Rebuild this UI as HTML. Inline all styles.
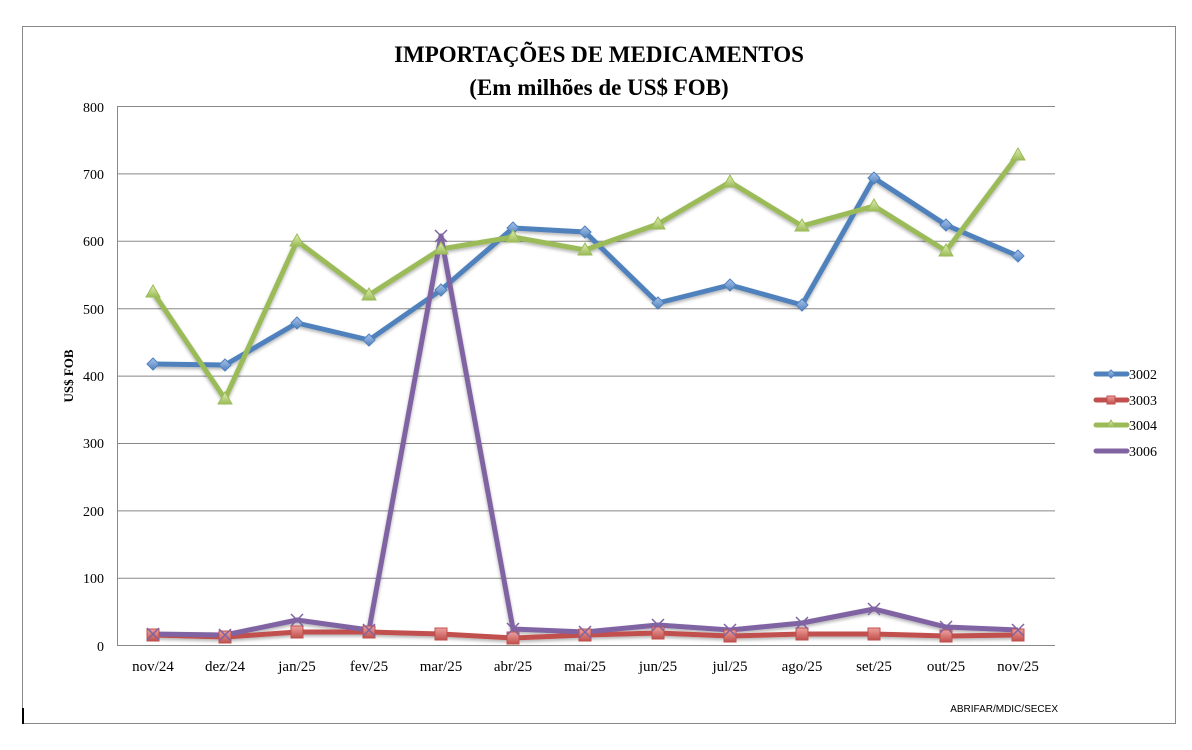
<!DOCTYPE html>
<html><head><meta charset="utf-8"><style>
body{margin:0;background:#fff;}
svg{display:block;}
</style></head><body>
<svg width="1192" height="750" viewBox="0 0 1192 750" xmlns="http://www.w3.org/2000/svg" font-family="Liberation Serif, serif">
<defs>
<filter id="sh" x="-20%" y="-20%" width="140%" height="160%"><feDropShadow dx="0" dy="2" stdDeviation="1.5" flood-color="#000" flood-opacity="0.3"/></filter>
<linearGradient id="gb" x1="0" y1="0" x2="0" y2="1"><stop offset="0" stop-color="#a9c4ec"/><stop offset="1" stop-color="#4f81bd"/></linearGradient>
<linearGradient id="gr" x1="0" y1="0" x2="0" y2="1"><stop offset="0" stop-color="#eea09d"/><stop offset="1" stop-color="#c0504d"/></linearGradient>
<linearGradient id="gg" x1="0" y1="0" x2="0" y2="1"><stop offset="0" stop-color="#e0f0b0"/><stop offset="1" stop-color="#9bbb59"/></linearGradient>
</defs>
<rect x="22.5" y="26.5" width="1153" height="697" fill="#fff" stroke="#888" stroke-width="1"/>
<rect x="22" y="708" width="2" height="16" fill="#000"/>
<text x="599" y="62" text-anchor="middle" font-size="23" font-weight="bold">IMPORTAÇÕES DE MEDICAMENTOS</text>
<text x="599" y="95" text-anchor="middle" font-size="23" font-weight="bold">(Em milhões de US$ FOB)</text>
<g stroke="#888" stroke-width="1">
<line x1="117" y1="106.5" x2="1055" y2="106.5"/>
<line x1="117" y1="173.9" x2="1055" y2="173.9"/>
<line x1="117" y1="241.3" x2="1055" y2="241.3"/>
<line x1="117" y1="308.7" x2="1055" y2="308.7"/>
<line x1="117" y1="376.1" x2="1055" y2="376.1"/>
<line x1="117" y1="443.5" x2="1055" y2="443.5"/>
<line x1="117" y1="510.9" x2="1055" y2="510.9"/>
<line x1="117" y1="578.3" x2="1055" y2="578.3"/>
<line x1="117" y1="645.5" x2="1055" y2="645.5"/>
<line x1="117.5" y1="106" x2="117.5" y2="645"/>
</g>
<g font-size="14" text-anchor="end">
<text x="104" y="112">800</text><text x="104" y="179">700</text><text x="104" y="246">600</text>
<text x="104" y="314">500</text><text x="104" y="381">400</text><text x="104" y="448">300</text>
<text x="104" y="516">200</text><text x="104" y="583">100</text><text x="104" y="651">0</text>
</g>
<text transform="translate(73,376) rotate(-90)" text-anchor="middle" font-size="13" font-weight="bold">US$ FOB</text>
<g font-size="15" text-anchor="middle">
<text x="153" y="671">nov/24</text><text x="225" y="671">dez/24</text><text x="297" y="671">jan/25</text>
<text x="369" y="671">fev/25</text><text x="441" y="671">mar/25</text><text x="513" y="671">abr/25</text>
<text x="585" y="671">mai/25</text><text x="658" y="671">jun/25</text><text x="730" y="671">jul/25</text>
<text x="802" y="671">ago/25</text><text x="874" y="671">set/25</text><text x="946" y="671">out/25</text>
<text x="1018" y="671">nov/25</text>
</g>
<text x="1058" y="712" text-anchor="end" font-size="10" font-family="Liberation Sans, sans-serif">ABRIFAR/MDIC/SECEX</text>

<g fill="none" stroke-width="5" stroke-linejoin="round" filter="url(#sh)">
<polyline stroke="#4f81bd" points="153,364 225,365 297,323 369,340 441,290 513,228 585,232 658,303 730,285 802,305 874,178 946,225 1018,256"/>
<polyline stroke="#9bbb59" points="153,292 225,399 297,241 369,295 441,249 513,237 585,250 658,224 730,182 802,226 874,206 946,251 1018,155"/>
<polyline stroke="#c0504d" points="153,635 225,637 297,632 369,632 441,634 513,638 585,635 658,633 730,636 802,634 874,634 946,636 1018,635"/>
<polyline stroke="#8064a2" points="153,634 225,635 297,620 369,630 441,236 513,629 585,632 658,625 730,630 802,623 874,609 946,627 1018,630"/>
</g>
<g fill="url(#gb)" stroke="#4f81bd" stroke-width="1">
<g id="d"></g>
<path d="M153,358l6,6-6,6-6-6z"/><path d="M225,359l6,6-6,6-6-6z"/><path d="M297,317l6,6-6,6-6-6z"/><path d="M369,334l6,6-6,6-6-6z"/><path d="M441,284l6,6-6,6-6-6z"/><path d="M513,222l6,6-6,6-6-6z"/><path d="M585,226l6,6-6,6-6-6z"/><path d="M658,297l6,6-6,6-6-6z"/><path d="M730,279l6,6-6,6-6-6z"/><path d="M802,299l6,6-6,6-6-6z"/><path d="M874,172l6,6-6,6-6-6z"/><path d="M946,219l6,6-6,6-6-6z"/><path d="M1018,250l6,6-6,6-6-6z"/>
</g>
<g fill="url(#gg)" stroke="#9bbb59" stroke-width="1">
<path d="M153,285l7,12h-14z"/><path d="M225,392l7,12h-14z"/><path d="M297,234l7,12h-14z"/><path d="M369,288l7,12h-14z"/><path d="M441,242l7,12h-14z"/><path d="M513,230l7,12h-14z"/><path d="M585,243l7,12h-14z"/><path d="M658,217l7,12h-14z"/><path d="M730,175l7,12h-14z"/><path d="M802,219l7,12h-14z"/><path d="M874,199l7,12h-14z"/><path d="M946,244l7,12h-14z"/><path d="M1018,148l7,12h-14z"/>
</g>
<g fill="url(#gr)" stroke="#c0504d" stroke-width="1">
<rect x="147" y="629" width="12" height="12"/><rect x="219" y="631" width="12" height="12"/><rect x="291" y="626" width="12" height="12"/><rect x="363" y="626" width="12" height="12"/><rect x="435" y="628" width="12" height="12"/><rect x="507" y="632" width="12" height="12"/><rect x="579" y="629" width="12" height="12"/><rect x="652" y="627" width="12" height="12"/><rect x="724" y="630" width="12" height="12"/><rect x="796" y="628" width="12" height="12"/><rect x="868" y="628" width="12" height="12"/><rect x="940" y="630" width="12" height="12"/><rect x="1012" y="629" width="12" height="12"/>
</g>
<g stroke="#8064a2" stroke-width="1.5">
<path d="M147,628l12,12M159,628l-12,12"/><path d="M219,629l12,12M231,629l-12,12"/><path d="M291,614l12,12M303,614l-12,12"/><path d="M363,624l12,12M375,624l-12,12"/><path d="M435,230l12,12M447,230l-12,12"/><path d="M507,623l12,12M519,623l-12,12"/><path d="M579,626l12,12M591,626l-12,12"/><path d="M652,619l12,12M664,619l-12,12"/><path d="M724,624l12,12M736,624l-12,12"/><path d="M796,617l12,12M808,617l-12,12"/><path d="M868,603l12,12M880,603l-12,12"/><path d="M940,621l12,12M952,621l-12,12"/><path d="M1012,624l12,12M1024,624l-12,12"/>
</g>
<g stroke-width="5" stroke-linecap="round">
<line x1="1096" y1="374" x2="1127" y2="374" stroke="#4f81bd"/>
<line x1="1096" y1="400" x2="1127" y2="400" stroke="#c0504d"/>
<line x1="1096" y1="425" x2="1127" y2="425" stroke="#9bbb59"/>
<line x1="1096" y1="451" x2="1127" y2="451" stroke="#8064a2"/>
</g>
<path d="M1111,370l4,4-4,4-4-4z" fill="url(#gb)" stroke="#4f81bd"/>
<rect x="1107" y="396" width="8" height="8" fill="url(#gr)" stroke="#c0504d"/>
<path d="M1111,420l4,7h-8z" fill="url(#gg)" stroke="#9bbb59"/>
<g font-size="14">
<text x="1129" y="379">3002</text><text x="1129" y="405">3003</text><text x="1129" y="430">3004</text><text x="1129" y="456">3006</text>
</g>
</svg>
</body></html>
